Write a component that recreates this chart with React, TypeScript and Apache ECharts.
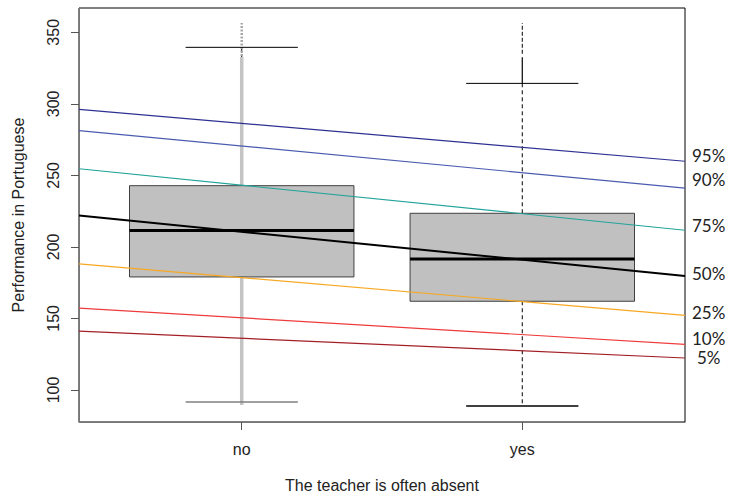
import React, { useEffect, useRef } from "react";
import * as echarts from "echarts";

// ---- data ----
const categories = ["no", "yes"];
const whiskerLow = [91.6, 88.8];
const q1 = [179.0, 162.0];
const median = [211.4, 191.5];
const q3 = [242.8, 223.5];
const whiskerHigh = [339.5, 314.3];
const denseLow = [89.5, 314.3];
const denseHigh = [332.7, 332.5];
const sparseLow = [333.5, 335.0];
const sparseHigh = [356.5, 356.5];

const quantileNames = ["95%", "90%", "75%", "50%", "25%", "10%", "5%"];
const quantileAtNo = [286.4, 270.5, 243.1, 210.6, 178.5, 150.4, 136.1];
const quantileAtYes = [269.6, 251.9, 223.2, 191.0, 161.8, 138.7, 127.4];
const labelValues = [264.0, 246.8, 215.3, 181.6, 154.3, 136.0, 122.4];

const yTicks = [100, 150, 200, 250, 300, 350];
const xTicks = [1, 2];

// ---- styles ----
const X_MIN = 0.42;
const X_MAX = 2.58;
const Y_MIN = 77.6;
const Y_MAX = 367.0;
const quantileColors = ["#2e3192", "#4a5cb0", "#22a39b", "#000000", "#f7a823", "#ee3b3b", "#a31f26"];
const quantileWidths = [1.2, 1.2, 1.2, 2, 1.2, 1.2, 1.2];
const labelIndent = [0, 0, 0, 0, 0, 0, 5];
const denseColor = ["#c4c4c4", "#000000"];
const denseWidth = [3.5, 1.2];
const lowCapColor = ["#808080", "#000000"];
const sansFont = "'Liberation Sans', Arial, sans-serif";

export default function App() {
  const ref = useRef<HTMLDivElement>(null);
  useEffect(() => {
    document.body.style.margin = "0";
    const chart = echarts.init(ref.current!, undefined, { renderer: "svg" });

    const boxData = categories.map((_, i) => [i + 1, whiskerLow[i], q1[i], median[i], q3[i], whiskerHigh[i]]);

    const renderItem = (params: any, api: any) => {
      const i = params.dataIndex;
      const x = i + 1;
      const px = (xv: number) => api.coord([xv, Y_MIN])[0];
      const py = (yv: number) => api.coord([X_MIN, yv])[1];
      const xc = px(x);
      const xl = px(x - 0.4);
      const xr = px(x + 0.4);
      const cl = px(x - 0.2);
      const cr = px(x + 0.2);
      const line = (x1: number, y1: number, x2: number, y2: number, stroke: string, w: number, dash?: number[]) => ({
        type: "line",
        shape: { x1, y1, x2, y2 },
        style: { stroke, lineWidth: w, lineDash: dash || null },
      });
      const children: any[] = [
        line(xc, py(q1[i]), xc, py(whiskerLow[i]), "#000", 1, [4, 3]),
        line(xc, py(q3[i]), xc, py(whiskerHigh[i]), "#000", 1, [4, 3]),
        line(xc, py(denseLow[i]), xc, py(denseHigh[i]), denseColor[i], denseWidth[i]),
        line(xc, py(sparseLow[i]), xc, py(sparseHigh[i]), i === 0 ? "#a8a8a8" : "#000", i === 0 ? 2.5 : 1, i === 0 ? [2, 1.5] : [4, 2]),
        {
          type: "rect",
          shape: { x: xl, y: py(q3[i]), width: xr - xl, height: py(q1[i]) - py(q3[i]) },
          style: { fill: "#c0c0c0", stroke: "#404040", lineWidth: 1 },
        },
        line(xl, py(median[i]), xr, py(median[i]), "#000", 3),
        line(cl, py(whiskerHigh[i]), cr, py(whiskerHigh[i]), "#000", 1),
        line(cl, py(whiskerLow[i]), cr, py(whiskerLow[i]), lowCapColor[i], 1.5),
      ];
      return { type: "group", children };
    };

    const lineSeries = quantileNames.map((name, k) => {
      const slope = quantileAtYes[k] - quantileAtNo[k];
      const at = (xv: number) => quantileAtNo[k] + slope * (xv - 1);
      return {
        type: "line",
        name,
        data: [
          [X_MIN, at(X_MIN)],
          [X_MAX, at(X_MAX)],
        ],
        symbol: "none",
        lineStyle: { color: quantileColors[k], width: quantileWidths[k] },
        z: 5,
        silent: true,
      };
    });

    const option: any = {
      animation: false,
      grid: {
        left: 79,
        right: 50,
        top: 8,
        bottom: 71,
        outerBoundsMode: "none",
        containLabel: false,
        show: true,
        borderColor: "#000",
        borderWidth: 1,
        backgroundColor: "transparent",
      },
      xAxis: {
        type: "value",
        min: X_MIN,
        max: X_MAX,
        name: "The teacher is often absent",
        nameLocation: "middle",
        nameGap: 55,
        nameTextStyle: { fontFamily: sansFont, fontSize: 16, color: "#222" },
        splitLine: { show: false },
        axisLine: { show: true, onZero: false, lineStyle: { color: "#777", width: 1 } },
        axisTick: { show: true, customValues: xTicks, length: 8, lineStyle: { color: "#555" } },
        axisLabel: {
          customValues: xTicks,
          formatter: (v: number) => categories[Math.round(v) - 1] ?? "",
          fontFamily: sansFont,
          fontSize: 16,
          color: "#222",
          margin: 19,
        },
      },
      yAxis: {
        type: "value",
        min: Y_MIN,
        max: Y_MAX,
        name: "Performance in Portuguese",
        nameLocation: "middle",
        nameRotate: 90,
        nameGap: 53,
        nameTextStyle: { fontFamily: sansFont, fontSize: 16, color: "#222" },
        splitLine: { show: false },
        axisLine: { show: true, onZero: false, lineStyle: { color: "#777", width: 1 } },
        axisTick: { show: true, customValues: yTicks, length: 8, lineStyle: { color: "#555" } },
        axisLabel: {
          customValues: yTicks,
          rotate: 90,
          fontFamily: sansFont,
          fontSize: 16,
          color: "#222",
          margin: 18,
        },
      },
      series: [
        {
          type: "custom",
          renderItem,
          data: boxData,
          encode: { x: 0, y: [1, 2, 3, 4, 5] },
          z: 2,
          silent: true,
        },
        ...lineSeries,
      ],
    };
    chart.setOption(option);

    const graphics = quantileNames.map((name, k) => {
      const [, y] = chart.convertToPixel({ gridIndex: 0 }, [X_MAX, labelValues[k]]);
      return {
        type: "text",
        x: 692 + labelIndent[k],
        y,
        style: {
          text: name,
          fontFamily: "Lato, 'Open Sans', sans-serif",
          fontSize: 17,
          lineHeight: 16,
          fill: "#222",
          textVerticalAlign: "middle",
          verticalAlign: "middle",
        },
        silent: true,
      };
    });
    chart.setOption({ graphic: graphics });

    return () => chart.dispose();
  }, []);
  return <div ref={ref} style={{ position: "absolute", left: 0, top: 0, width: 735, height: 493 }} />;
}
